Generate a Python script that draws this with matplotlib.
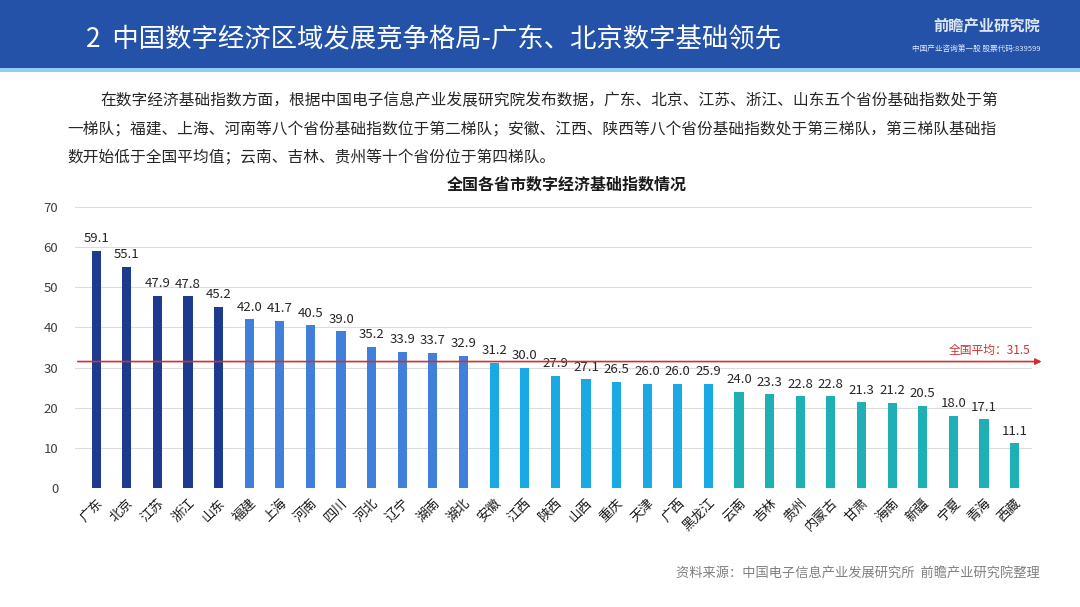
import matplotlib
matplotlib.use("Agg")
import matplotlib.pyplot as plt
from matplotlib.patches import Rectangle

plt.rcParams['font.family'] = ['Noto Sans CJK SC', 'DejaVu Sans']

provinces = ['广东', '北京', '江苏', '浙江', '山东',
             '福建', '上海', '河南', '四川', '河北', '辽宁', '湖南', '湖北',
             '安徽', '江西', '陕西', '山西', '重庆', '天津', '广西', '黑龙江',
             '云南', '吉林', '贵州', '内蒙古', '甘肃', '海南', '新疆', '宁夏', '青海', '西藏']
values = [59.1, 55.1, 47.9, 47.8, 45.2,
          42.0, 41.7, 40.5, 39.0, 35.2, 33.9, 33.7, 32.9,
          31.2, 30.0, 27.9, 27.1, 26.5, 26.0, 26.0, 25.9,
          24.0, 23.3, 22.8, 22.8, 21.3, 21.2, 20.5, 18.0, 17.1, 11.1]
tiers = [1] * 5 + [2] * 8 + [3] * 8 + [4] * 10
tier_colors = {1: '#1c3a8e', 2: '#4180da', 3: '#1aa9e2', 4: '#1fb0b6'}
national_avg = 31.5
yticks = [0, 10, 20, 30, 40, 50, 60, 70]

title_text = '2  中国数字经济区域发展竞争格局-广东、北京数字基础领先'
body_lines = [
    '在数字经济基础指数方面，根据中国电子信息产业发展研究院发布数据，广东、北京、江苏、浙江、山东五个省份基础指数处于第',
    '一梯队；福建、上海、河南等八个省份基础指数位于第二梯队；安徽、江西、陕西等八个省份基础指数处于第三梯队，第三梯队基础指',
    '数开始低于全国平均值；云南、吉林、贵州等十个省份位于第四梯队。',
]
chart_title = '全国各省市数字经济基础指数情况'
source_text = '资料来源：中国电子信息产业发展研究所  前瞻产业研究院整理'

W, H = 1080, 607
fig = plt.figure(figsize=(W / 100, H / 100), dpi=100)
fig.patch.set_facecolor('white')

# header band
fig.patches.append(Rectangle((0, 1 - 68 / H), 1, 68 / H, transform=fig.transFigure,
                             facecolor='#2352a8', edgecolor='none', zorder=0))
fig.patches.append(Rectangle((0, 1 - 72 / H), 1, 4 / H, transform=fig.transFigure,
                             facecolor='#8fd0f2', edgecolor='none', zorder=0))
fig.text(86 / W, 1 - 40 / H, title_text, color='white', fontsize=19, va='center', ha='left')
fig.text(1040 / W, 1 - 26 / H, '前瞻产业研究院', color='white', fontsize=11, fontweight='bold',
         va='center', ha='right', alpha=0.85)
fig.text(1040 / W, 1 - 50 / H, '中国产业咨询第一股 股票代码:839599', color='#dfe8ff', fontsize=5.5,
         va='center', ha='right')

# body text
fig.text(100 / W, 1 - 101 / H, body_lines[0], fontsize=11.3, color='#262626', va='center', ha='left',
         fontweight='medium')
fig.text(67 / W, 1 - 129 / H, body_lines[1], fontsize=11.3, color='#262626', va='center', ha='left',
         fontweight='medium')
fig.text(67 / W, 1 - 157 / H, body_lines[2], fontsize=11.3, color='#262626', va='center', ha='left',
         fontweight='medium')
fig.text(567 / W, 1 - 185 / H, chart_title, fontsize=11.5, fontweight='bold', color='#1a1a1a',
         va='center', ha='center')

# axes
left, right = 75, 1032
top, bottom = 207, 488
ax = fig.add_axes([left / W, 1 - bottom / H, (right - left) / W, (bottom - top) / H])
x = list(range(len(provinces)))
colors = [tier_colors[t] for t in tiers]
ax.bar(x, values, width=0.3, color=colors, zorder=3)
ax.set_xlim(-0.69, len(provinces) - 0.43)
ax.set_ylim(0, 70)
ax.set_yticks(yticks)
ax.set_yticklabels([str(v) for v in yticks], fontsize=9.5, color='#404040')
ax.grid(axis='y', color='#dcdcdc', linewidth=0.8, zorder=0)
for s in ax.spines.values():
    s.set_visible(False)
ax.tick_params(axis='both', length=0)
ax.tick_params(axis='y', pad=12)
ax.set_xticks(x)
ax.set_xticklabels(provinces, rotation=45, ha='right', va='top', rotation_mode='anchor',
                   fontsize=9.5, color='#1a1a1a')
ax.tick_params(axis='x', pad=6)

for xi, v in zip(x, values):
    ax.annotate(f'{v:.1f}', (xi, v), xytext=(0, 4), textcoords='offset points',
                ha='center', va='bottom', fontsize=9.5, color='#262626')

# national average arrow line
ax.annotate('', xy=(1.013, national_avg), xycoords=('axes fraction', 'data'),
            xytext=(0.0, national_avg), textcoords=('axes fraction', 'data'),
            arrowprops=dict(arrowstyle='-|>', color='#d03030', lw=1.2, mutation_scale=9),
            annotation_clip=False, zorder=5)
ax.annotate(f'全国平均：{national_avg}', (0.998, national_avg), xycoords=('axes fraction', 'data'),
            xytext=(0, 3), textcoords='offset points', ha='right', va='bottom',
            fontsize=8.5, color='#d03030', annotation_clip=False)

fig.text(1040 / W, 1 - 573 / H, source_text, fontsize=9.5, color='#808080', va='center', ha='right')

fig.savefig('out.png', dpi=100)
